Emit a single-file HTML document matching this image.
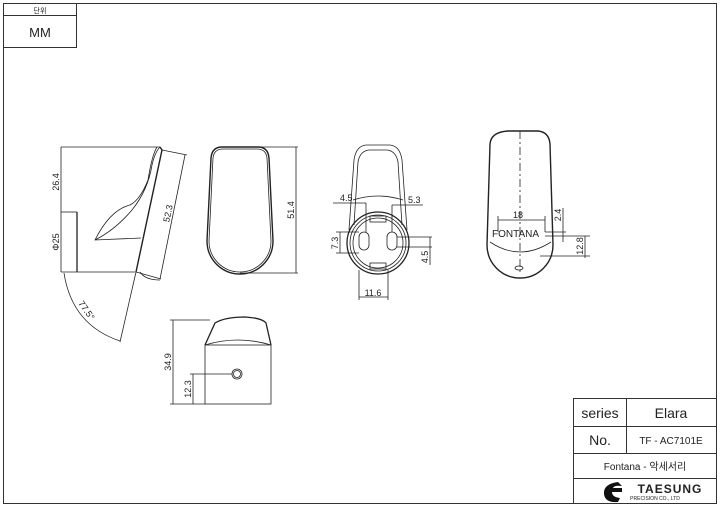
<!DOCTYPE html>
<html><head><meta charset="utf-8"><style>body{margin:0;background:#fff}svg{display:block}text{font-family:"Liberation Sans","Noto Sans CJK KR",sans-serif;fill:#222}</style></head><body>
<svg width="720" height="507" viewBox="0 0 720 507" xmlns="http://www.w3.org/2000/svg">
<g fill="none" stroke="#333" stroke-width="1">
<rect x="3.5" y="3.5" width="713" height="500"/>
<rect x="3.5" y="3.5" width="73" height="44"/>
<line x1="3.5" y1="15.5" x2="76.5" y2="15.5"/>
<!-- title block -->
<rect x="573.5" y="398.5" width="143" height="105"/>
<line x1="573.5" y1="426.5" x2="716.5" y2="426.5"/>
<line x1="573.5" y1="453.5" x2="716.5" y2="453.5"/>
<line x1="573.5" y1="478.5" x2="716.5" y2="478.5"/>
<line x1="626.5" y1="398.5" x2="626.5" y2="453.5"/>
</g>
<text x="40" y="13" font-size="7" text-anchor="middle">단위</text>
<text x="40" y="37" font-size="13" text-anchor="middle">MM</text>
<text x="600" y="418" font-size="14" text-anchor="middle">series</text>
<text x="671" y="418" font-size="14" text-anchor="middle">Elara</text>
<text x="600" y="445" font-size="14" text-anchor="middle">No.</text>
<text x="671" y="444" font-size="10" text-anchor="middle">TF - AC7101E</text>
<text x="645" y="470" font-size="10" text-anchor="middle">Fontana - 악세서리</text>
<path d="M618 482 Q603 484 604 494 Q605 503 618 502 L620 498 Q612 497 612 492 L622 492 L622 488 L613 488 Q614 485 622 486 Z" fill="#111"/>
<text x="670" y="493" font-size="12" font-weight="bold" font-family="Liberation Serif,serif" text-anchor="middle" letter-spacing="1">TAESUNG</text>
<text x="655" y="500" font-size="5" text-anchor="middle">PRECISION CO., LTD</text>

<g fill="none" stroke="#222" stroke-width="0.8">
<!-- view1 side -->
<line x1="61" y1="147" x2="160" y2="147"/>
<line x1="61" y1="147" x2="61" y2="272"/>
<line x1="61" y1="212" x2="77" y2="212"/>
<line x1="61" y1="272" x2="135" y2="272"/>
<line x1="77" y1="212" x2="77" y2="272" stroke-width="1.3"/>
<path d="M160 147 L162 150 L136 272" stroke-width="1.4"/>
<path d="M157 147 Q152 155 148 180 Q140 200 130 205 Q110 210 95 240 L141 238 M95 240 Q115 230 132 210 Q148 190 152 165 Q155 152 160 147"/>
<path d="M136 272 L162 150 M140 272 Q145 280 160 280"/>
<line x1="162" y1="150" x2="187" y2="155"/>
<line x1="136" y1="272" x2="161" y2="279"/>
<line x1="185" y1="155" x2="160" y2="279"/>
<line x1="136" y1="272" x2="120" y2="342"/>
<path d="M64 273 Q72 325 120 341"/>
<!-- view2 front -->
<path d="M222 147 L258 147 Q268 147 269 158 L273 241 A32 32 0 0 1 207 241 L211 158 Q212 147 222 147 Z" stroke-width="1.4"/>
<path d="M223 149 L257 149 Q266 149 267 158 L271 241 A30 30 0 0 1 209 241 L213 158 Q214 149 223 149Z"/>
<line x1="258" y1="147" x2="298" y2="147"/>
<line x1="240" y1="273" x2="298" y2="273"/>
<line x1="296" y1="147" x2="296" y2="273"/>
<!-- view3 -->
<path d="M366 145 L390 145 Q400 146 402 160 L407 230 M366 145 Q356 146 354 160 L349 230"/>
<path d="M369 150 L387 150 Q396 151 398 162 L402 225 M369 150 Q360 151 358 162 L354 225"/>
<path d="M353 200 Q378 192 403 200"/>
<circle cx="378" cy="243" r="31" stroke-width="1.3"/>
<circle cx="378" cy="243" r="28"/>
<circle cx="378" cy="243" r="25"/>
<rect x="359" y="232" width="10" height="18" rx="5"/>
<rect x="387" y="232" width="10" height="18" rx="5"/>
<rect x="370" y="216" width="16" height="6"/>
<rect x="370" y="263" width="16" height="6"/>
<line x1="333" y1="203" x2="366" y2="203"/><line x1="366" y1="203" x2="366" y2="232"/>
<line x1="392" y1="205" x2="423" y2="205"/><line x1="392" y1="205" x2="392" y2="232"/>
<line x1="336" y1="232" x2="359" y2="232"/><line x1="336" y1="253" x2="359" y2="253"/><line x1="340" y1="232" x2="340" y2="253"/>
<line x1="397" y1="237" x2="432" y2="237"/><line x1="397" y1="247" x2="432" y2="247"/><line x1="430" y1="237" x2="430" y2="265"/>
<line x1="359" y1="270" x2="359" y2="300"/><line x1="388" y1="270" x2="388" y2="300"/><line x1="359" y1="297" x2="388" y2="297"/>
<!-- view4 -->
<path d="M508 131 L538 131 Q549 132 550 144 L553 245 A33 33 0 0 1 487 245 L490 144 Q491 132 508 131Z" stroke-width="1.4"/>
<path d="M490 242 Q520 262 551 242"/>
<line x1="520" y1="131" x2="520" y2="275" stroke-dasharray="8 3 2 3"/>
<ellipse cx="519" cy="268" rx="4" ry="2"/>
<line x1="498" y1="220" x2="545" y2="220"/><line x1="498" y1="216" x2="498" y2="232"/><line x1="545" y1="216" x2="545" y2="232"/>
<line x1="545" y1="232" x2="566" y2="232"/><line x1="545" y1="236" x2="590" y2="236"/><line x1="540" y1="256" x2="590" y2="256"/>
<line x1="563" y1="208" x2="563" y2="242"/><line x1="585" y1="236" x2="585" y2="258"/>
<!-- view5 -->
<path d="M205 345 L215 323 Q225 317 245 317 Q262 318 266 323 L271 345" stroke-width="1.3"/>
<path d="M205 345 Q238 335 271 345"/>
<rect x="205" y="345" width="66" height="59"/>
<circle cx="237" cy="374" r="5"/><circle cx="237" cy="374" r="3.5"/>
<line x1="170" y1="320" x2="210" y2="320"/><line x1="173" y1="320" x2="173" y2="404"/><line x1="170" y1="404" x2="205" y2="404"/>
<line x1="190" y1="374" x2="232" y2="374"/><line x1="193" y1="374" x2="193" y2="404"/>
</g>
<g font-size="9">
<text transform="translate(59,182) rotate(-90)" text-anchor="middle">26.4</text>
<text transform="translate(59,242) rotate(-90)" text-anchor="middle">Φ25</text>
<text transform="translate(171,214) rotate(-78)" text-anchor="middle">52.3</text>
<text transform="translate(84,312) rotate(55)" text-anchor="middle">77.5°</text>
<text transform="translate(294,210) rotate(-90)" text-anchor="middle">51.4</text>
<text x="340" y="201">4.5</text><text x="408" y="203">5.3</text>
<text transform="translate(338,243) rotate(-90)" text-anchor="middle">7.3</text>
<text transform="translate(428,257) rotate(-90)" text-anchor="middle">4.5</text>
<text x="373" y="296" text-anchor="middle">11.6</text>
<text x="518" y="218" text-anchor="middle">18</text>
<text transform="translate(561,215) rotate(-90)" text-anchor="middle">2.4</text>
<text transform="translate(583,246) rotate(-90)" text-anchor="middle">12.8</text>
<text transform="translate(171,362) rotate(-90)" text-anchor="middle">34.9</text>
<text transform="translate(191,389) rotate(-90)" text-anchor="middle">12.3</text>
</g>
<text x="492" y="237" font-size="10">FONTANA</text>
</svg>
</body></html>
